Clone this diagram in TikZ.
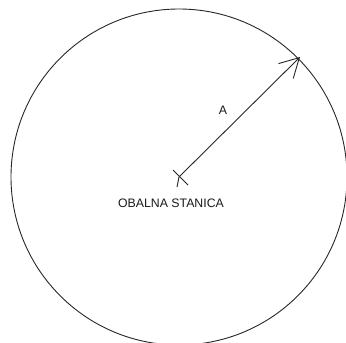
\documentclass[tikz,border=0pt]{standalone}
\usepackage{fontspec}
\setmainfont{Liberation Sans}
\usetikzlibrary{arrows.meta}
\tikzset{
  thinline/.style={line width=0.9pt, draw=black!85},
  lbl/.style={inner sep=0pt, font=\fontsize{12.3pt}{14pt}\selectfont, text=black!90},
  radiusarrow/.style={thinline, -{Straight Barb[length=19pt,width=21pt,line width=0.9pt]}}
}
\begin{document}
\begin{tikzpicture}[x=1pt,y=-1pt]
  \useasboundingbox (0,0) rectangle (346,343);
  \coordinate (c) at (179,177);
  \coordinate (tip) at (300,57);
  \coordinate (tail) at (177,187);
  \coordinate (x1) at (173,170);
  \coordinate (x2) at (188,185);
  % range circle
  \draw[thinline] (c) circle[radius=168pt];
  % station mark
  \draw[thinline] (x1) -- (x2);
  \draw[thinline] (tail) -- (c);
  % radius arrow
  \draw[radiusarrow] (c) -- (tip);
  % labels
  \node[lbl] (a) at (223,110) {A};
  \node[lbl] (station) at (171,203) {OBALNA STANICA};
\end{tikzpicture}
\end{document}
